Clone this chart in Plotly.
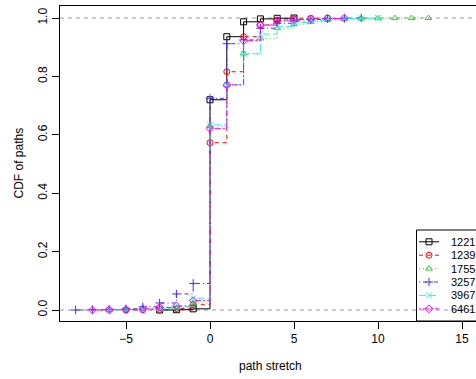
import plotly.graph_objects as go

# ---------------- data ----------------
series_names = ["1221", "1239", "1755", "3257", "3967", "6461"]

x_1221 = [-3, -2, -1, 0, 1, 2, 3, 4, 5]
y_1221 = [0.0, 0.001, 0.004, 0.72, 0.936, 0.987, 0.997, 0.999, 1.0]

x_1239 = [-5, -4, -3, -2, -1, 0, 1, 2, 3, 4, 5, 6, 7]
y_1239 = [0.0, 0.001, 0.002, 0.005, 0.018, 0.573, 0.816, 0.936, 0.976, 0.993, 0.997, 0.999, 1.0]

x_1755 = [-6, -5, -4, -3, -2, -1, 0, 1, 2, 3, 4, 5, 6, 7, 8, 9, 10, 11, 12, 13]
y_1755 = [0.0, 0.001, 0.002, 0.004, 0.008, 0.024, 0.630, 0.771, 0.879, 0.930, 0.965, 0.979,
          0.987, 0.993, 0.996, 0.998, 0.999, 0.9995, 0.9998, 1.0]

x_3257 = [-8, -7, -6, -5, -4, -3, -2, -1, 0, 1, 2, 3, 4, 5, 6, 7, 8, 9]
y_3257 = [0.0, 0.001, 0.002, 0.004, 0.011, 0.024, 0.055, 0.091, 0.725, 0.912, 0.925, 0.965,
          0.982, 0.990, 0.995, 0.998, 0.999, 1.0]

x_3967 = [-6, -5, -4, -3, -2, -1, 0, 1, 2, 3, 4, 5, 6, 7, 8, 9, 10]
y_3967 = [0.0, 0.001, 0.003, 0.006, 0.012, 0.040, 0.634, 0.771, 0.877, 0.945, 0.970, 0.985,
          0.992, 0.996, 0.998, 0.999, 1.0]

x_6461 = [-7, -6, -5, -4, -3, -2, -1, 0, 1, 2, 3, 4, 5, 6, 7, 8]
y_6461 = [0.0, 0.001, 0.002, 0.004, 0.009, 0.014, 0.032, 0.622, 0.771, 0.922, 0.976, 0.990,
          0.995, 0.997, 0.998, 1.0]

x_ticks = [-5, 0, 5, 10, 15]
y_ticks = [0.0, 0.2, 0.4, 0.6, 0.8, 1.0]
ref_lines = [0.0, 1.0]

# ---------------- styles ----------------
xs = [x_1221, x_1239, x_1755, x_3257, x_3967, x_6461]
ys = [y_1221, y_1239, y_1755, y_3257, y_3967, y_6461]
colors = ["#000000", "#FF0000", "#33D633", "#4F2BEE", "#33EEEE", "#FF00FF"]
dashes = ["solid", "4px,4px", "1px,3px", "1px,3px,4px,3px", "7px,3px", "2px,2px,6px,2px"]
symbols = ["square-open", "circle-open", "triangle-up-open", "cross-thin-open",
           "x-thin-open", "diamond-open"]

W, H = 476, 379
L, R, T, B = 60, 0, 6, 58
PW, PH = W - L - R, H - T - B
FONT = "Liberation Sans, Arial, sans-serif"
MSIZE = 6


def px(xp):
    return (xp - L) / PW


def py(yp):
    return (H - B - yp) / PH


fig = go.Figure()

for i, name in enumerate(series_names):
    fig.add_trace(go.Scatter(
        x=xs[i], y=ys[i], mode="lines+markers", name=name, line_shape="hv",
        line=dict(color=colors[i], width=1, dash=dashes[i]),
        marker=dict(symbol=symbols[i], size=MSIZE, color=colors[i],
                    line=dict(width=1, color=colors[i])),
        showlegend=False,
    ))

for v in ref_lines:
    fig.add_hline(y=v, line=dict(color="#999999", width=1, dash="4px,4px"), layer="below")

# --- manual legend on a pixel overlay axis ---
leg_left, leg_top = 416.5, 230
row0, row_h = 241.8, 13.4
for i, name in enumerate(series_names):
    yy = row0 + i * row_h
    fig.add_trace(go.Scatter(
        x=[419, 439], y=[yy, yy], mode="lines", xaxis="x2", yaxis="y2",
        line=dict(color=colors[i], width=1, dash=dashes[i]), showlegend=False,
        hoverinfo="skip"))
    fig.add_trace(go.Scatter(
        x=[429], y=[yy], mode="markers", xaxis="x2", yaxis="y2",
        marker=dict(symbol=symbols[i], size=MSIZE, color=colors[i],
                    line=dict(width=1, color=colors[i])),
        showlegend=False, hoverinfo="skip"))
    fig.add_annotation(x=px(448.5), y=py(yy), xref="paper", yref="paper", text=name,
                       showarrow=False, xanchor="left", yanchor="middle",
                       font=dict(size=11, color="black", family=FONT))
fig.add_shape(type="rect", xref="x2", yref="y2", x0=leg_left, x1=490, y0=leg_top, y1=H - B,
              line=dict(color="black", width=1), fillcolor="rgba(0,0,0,0)")

# axis titles
fig.add_annotation(x=px((L + 481) / 2), y=py(366), xref="paper", yref="paper",
                   text="path stretch", showarrow=False, xanchor="center", yanchor="middle",
                   font=dict(size=12, color="black", family=FONT))
fig.add_annotation(x=px(18), y=py((T + H - B) / 2), xref="paper", yref="paper",
                   text="CDF of paths", showarrow=False, textangle=-90,
                   xanchor="center", yanchor="middle",
                   font=dict(size=12, color="black", family=FONT))

fig.update_layout(
    width=W, height=H,
    margin=dict(l=L, r=R, t=T, b=B, pad=0),
    paper_bgcolor="white", plot_bgcolor="white",
    font=dict(family=FONT, size=12, color="black"),
    xaxis=dict(range=[(L - 210) / 16.8, (W - 210) / 16.8], tickvals=x_ticks,
               ticks="outside", ticklen=7, tickcolor="black", tickwidth=1,
               showline=True, linecolor="black", linewidth=1, mirror=True,
               showgrid=False, zeroline=False, tickfont=dict(size=12)),
    yaxis=dict(range=[(310 - 321) / 292, (310 - 6) / 292], tickvals=y_ticks,
               tickformat=".1f", tickangle=-90,
               ticks="outside", ticklen=7, tickcolor="black", tickwidth=1,
               showline=True, linecolor="black", linewidth=1, mirror=False,
               showgrid=False, zeroline=False, tickfont=dict(size=12)),
    xaxis2=dict(range=[L, W], overlaying="x", visible=False, fixedrange=True),
    yaxis2=dict(range=[H - B, T], overlaying="y", visible=False, fixedrange=True),
)

fig.write_html("out.html", config={"displayModeBar": False},
               post_script="document.body.style.margin='0';document.body.style.overflow='hidden';")
